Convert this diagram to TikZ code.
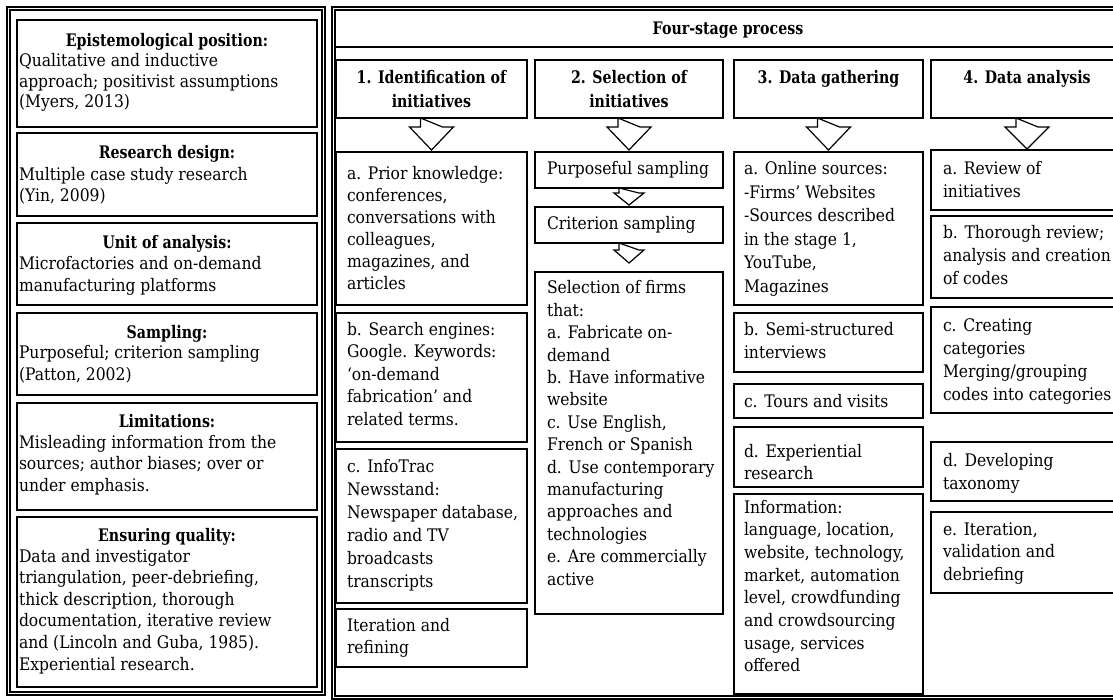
\documentclass[tikz,border=0pt]{standalone}
\usepackage{fontspec}
\setmainfont{DejaVu Serif}[FakeStretch=0.9]
\newfontfamily\bfont{DejaVu Serif}[FakeStretch=0.82]
\usetikzlibrary{calc}
\tikzset{
  bx/.style={draw=black, line width=1.2pt, inner sep=0pt, outer sep=0pt, anchor=north west, fill=white},
  tx/.style={inner sep=0pt, outer sep=0pt, anchor=base west},
  tt/.style={inner sep=0pt, outer sep=0pt, anchor=base},
  arr/.style={draw=black, line width=1.2pt, fill=white, line join=miter},
  panel/.style={draw=black, line width=1.1pt},
}
% box: name, x1, y1, x2, y2
\newcommand\bxn[5]{\node[bx, minimum width={#4-#2}, minimum height={#5-#3}] (#1) at (#2,#3) {};}
% left text: name, x, baseline y, baselineskip, text
\newcommand\txn[5]{\node[tx] (#1) at (#2,#3) {\parbox[t]{270pt}{\fontsize{17.3}{#4}\selectfont\raggedright #5}};}
% bold centred text: name, x, baseline y, baselineskip, text
\newcommand\ttn[5]{\node[tt] (#1) at (#2,#3) {\parbox[t]{300pt}{\centering\fontsize{17.3}{#4}\selectfont\bfont\bfseries #5}};}
% block arrow: from, to, stem half width, head half width, stem length, tip gap
\newcommand\barrow[6]{\draw[arr] ($(#1.south)+(-#3,0)$) -- ++(0,#5) -- ++({#3-#4},0) -- ($(#2.north)+(0,-#6)$) -- ($(#1.south)+(#4,#5)$) -- ++({#3-#4},0) -- cycle;}
\begin{document}
\begin{tikzpicture}[x=1pt,y=-1pt]
\useasboundingbox (0,0) rectangle (1113,700);
\clip (0,0) rectangle (1113,700);
\fill[white] (0,0) rectangle (1113,700);
% ---------- left panel ----------
\draw[panel] (7,7) rectangle (325,695);
\draw[panel] (10,10) rectangle (322,692);
\bxn{L1}{17}{20}{317}{127}
\bxn{L2}{17}{133}{317}{216}
\bxn{L3}{17}{223}{317}{305}
\bxn{L4}{17}{313}{317}{395}
\bxn{L5}{17}{403}{317}{510}
\bxn{L6}{17}{517}{317}{687}
\ttn{L1t}{167}{47}{21}{Epistemological position:}
\txn{L1b}{19}{67}{20.5}{Qualitative and inductive\\approach; positivist assumptions\\(Myers, 2013)}
\ttn{L2t}{167}{159}{21}{Research design:}
\txn{L2b}{19}{181}{21}{Multiple case study research\\(Yin, 2009)}
\ttn{L3t}{167}{249}{21}{Unit of analysis:}
\txn{L3b}{19}{270}{21.6}{Microfactories and on-demand\\manufacturing platforms}
\ttn{L4t}{167}{338}{21}{Sampling:}
\txn{L4b}{19}{359}{21.6}{Purposeful; criterion sampling\\(Patton, 2002)}
\ttn{L5t}{167}{427}{21}{Limitations:}
\txn{L5b}{19}{448}{21.6}{Misleading information from the\\sources; author biases; over or\\under emphasis.}
\ttn{L6t}{167}{541}{21}{Ensuring quality:}
\txn{L6b}{19}{562}{21.6}{Data and investigator\\triangulation, peer-debriefing,\\thick description, thorough\\documentation, iterative review\\and (Lincoln and Guba, 1985).\\Experiential research.}
% ---------- right panel ----------
\draw[panel] (332,7) rectangle (1130,699);
\draw[panel] (335,10) rectangle (1127,696);
\bxn{hdr}{335}{10}{1127}{47}
\ttn{hdrt}{728}{35}{22}{Four-stage process}
% stage headers
\bxn{h1}{336}{60}{527}{118}
\bxn{h2}{535}{60}{723}{118}
\bxn{h3}{734}{60}{923}{118}
\bxn{h4}{931}{60}{1123}{118}
\ttn{h1t}{431.5}{84}{24}{1. Identification of\\initiatives}
\ttn{h2t}{629}{84}{24}{2. Selection of\\initiatives}
\ttn{h3t}{828.5}{84}{24}{3. Data gathering}
\ttn{h4t}{1027}{84}{24}{4. Data analysis}
% stage 1
\bxn{a1}{336}{152}{527}{305}
\bxn{b1}{336}{313}{527}{442}
\bxn{c1}{336}{449}{527}{603}
\bxn{d1}{336}{609}{527}{667}
\txn{a1t}{347}{180}{22}{a. Prior knowledge:\\conferences,\\conversations with\\colleagues,\\magazines, and\\articles}
\txn{b1t}{347}{335}{22.5}{b. Search engines:\\Google. Keywords:\\‘on-demand\\fabrication’ and\\related terms.}
\txn{c1t}{347}{472}{23}{c. InfoTrac\\Newsstand:\\Newspaper database,\\radio and TV\\broadcasts\\transcripts}
\txn{d1t}{347}{631}{22}{Iteration and\\refining}
% stage 2
\bxn{p2}{535}{152}{723}{188}
\bxn{c2}{535}{207}{723}{243}
\bxn{s2}{535}{272}{723}{614}
\txn{p2t}{547}{175}{22}{Purposeful sampling}
\txn{c2t}{547}{230}{22}{Criterion sampling}
\txn{s2t}{547}{294}{22.4}{Selection of firms\\that:\\a. Fabricate on-\\demand\\b. Have informative\\website\\c. Use English,\\French or Spanish\\d. Use contemporary\\manufacturing\\approaches and\\technologies\\e. Are commercially\\active}
% stage 3
\bxn{a3}{734}{152}{923}{305}
\bxn{b3}{734}{313}{923}{372}
\bxn{c3}{734}{384}{923}{418}
\bxn{d3}{734}{427}{923}{487}
\bxn{e3}{734}{494}{923}{694}
\txn{a3t}{744}{175}{23.5}{a. Online sources:\\-Firms' Websites\\-Sources described\\in the stage 1,\\YouTube,\\Magazines}
\txn{b3t}{744}{336}{22}{b. Semi-structured\\interviews}
\txn{c3t}{744}{407}{22}{c. Tours and visits}
\txn{d3t}{744}{457}{22}{d. Experiential\\research}
\txn{e3t}{744}{513}{22.7}{Information:\\language, location,\\website, technology,\\market, automation\\level, crowdfunding\\and crowdsourcing\\usage, services\\offered}
% stage 4
\bxn{a4}{931}{150}{1123}{210}
\bxn{b4}{931}{216}{1123}{298}
\bxn{c4}{931}{307}{1123}{413}
\bxn{d4}{931}{442}{1123}{501}
\bxn{e4}{931}{512}{1123}{593}
\txn{a4t}{943}{175}{23}{a. Review of\\initiatives}
\txn{b4t}{943}{239}{23}{b. Thorough review;\\analysis and creation\\of codes}
\txn{c4t}{943}{331}{23}{c. Creating\\categories\\Merging/grouping\\codes into categories}
\txn{d4t}{943}{466}{23}{d. Developing\\taxonomy}
\txn{e4t}{943}{535}{22.5}{e. Iteration,\\validation and\\debriefing}
% block arrows
\barrow{h1}{a1}{11}{22}{9}{2}
\barrow{h2}{p2}{11}{22}{9}{2}
\barrow{h3}{a3}{11}{22}{9}{2}
\barrow{h4}{a4}{11}{22}{9}{1}
\barrow{p2}{c2}{10}{15}{5}{2}
\barrow{c2}{s2}{10}{15}{7}{9}
\end{tikzpicture}
\end{document}
